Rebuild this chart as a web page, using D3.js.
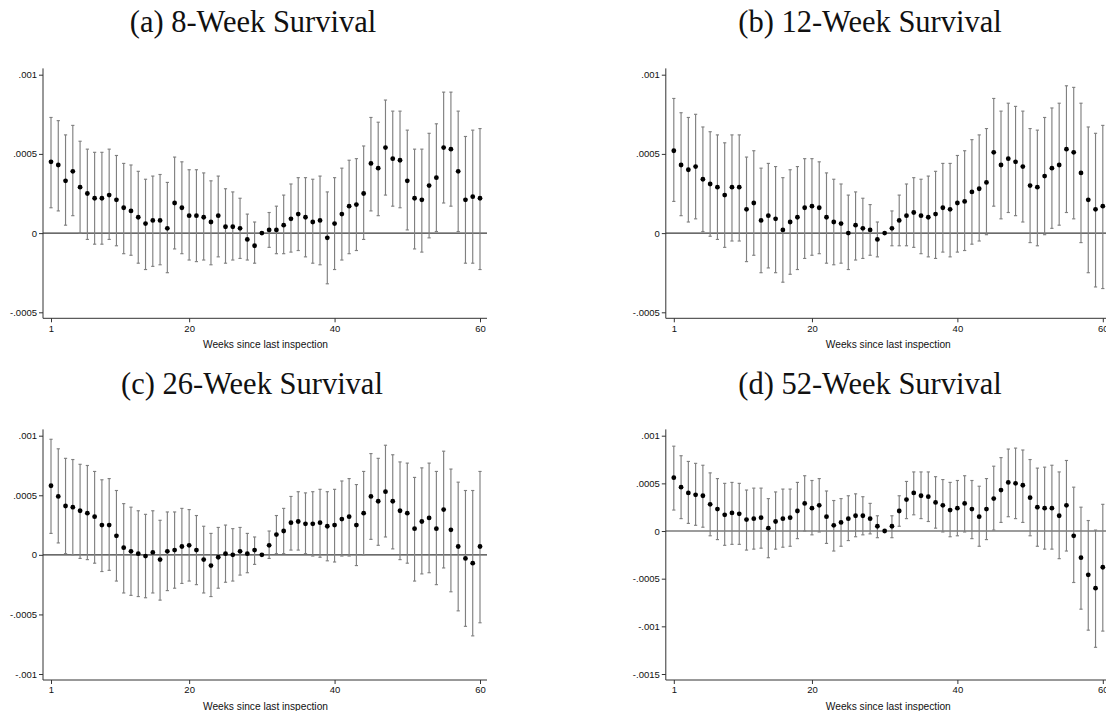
<!DOCTYPE html>
<html>
<head>
<meta charset="utf-8">
<script src="https://cdn.jsdelivr.net/npm/d3@7"></script>
<style>
  html, body { margin: 0; padding: 0; background: #fff; }
  svg { display: block; }
  .title { font-family: "Liberation Serif", "Times New Roman", serif; font-size: 30.5px; fill: #111; }
  .tick text, .xlab { font-family: "Liberation Sans", Arial, Helvetica, sans-serif; fill: #111; }
</style>
</head>
<body>
<svg id="chart" width="1106" height="711"></svg>
<script>
// Weeks since last inspection (week 30 is the omitted reference period)
const weeks = [1,2,3,4,5,6,7,8,9,10,11,12,13,14,15,16,17,18,19,20,
  21,22,23,24,25,26,27,28,29,30,31,32,33,34,35,36,37,38,39,40,
  41,42,43,44,45,46,47,48,49,50,51,52,53,54,55,56,57,58,59,60];
const xTicks = [1, 20, 40, 60];

// (a) 8-week survival
const est8 = [.00045,.00043,.00033,.00039,.00029,.00025,.00022,.00022,.00024,.00021,
  .00016,.00014,.00010,.00006,.00008,.00008,.00003,.00019,.00016,.00011,
  .00011,.00010,.00007,.00011,.00004,.00004,.00003,-.00004,-.00008,0,
  .00002,.00002,.00005,.00009,.00012,.00010,.00007,.00008,-.00003,.00006,
  .00012,.00017,.00018,.00025,.00044,.00041,.00054,.00047,.00046,.00033,
  .00022,.00021,.00030,.00035,.00054,.00053,.00039,.00021,.00023,.00022];
const hi8 = [.00073,.00071,.00062,.00068,.00058,.00053,.00051,.00051,.00053,.00049,
  .00044,.00043,.00039,.00034,.00036,.00037,.00032,.00048,.00045,.00040,
  .00040,.00038,.00033,.00036,.00028,.00026,.00022,.00012,.00007,null,
  .00013,.00017,.00024,.00031,.00035,.00035,.00034,.00036,.00026,.00035,
  .00041,.00046,.00047,.00055,.00073,.00070,.00084,.00077,.00077,.00065,
  .00053,.00053,.00063,.00069,.00089,.00089,.00077,.00061,.00065,.00066];
const lo8 = [.00016,.00014,.00005,.00011,.00000,-.00004,-.00007,-.00007,-.00004,-.00008,
  -.00013,-.00014,-.00019,-.00023,-.00021,-.00020,-.00025,-.00010,-.00013,-.00017,
  -.00018,-.00017,-.00020,-.00015,-.00019,-.00017,-.00016,-.00017,-.00019,null,
  -.00009,-.00013,-.00013,-.00012,-.00011,-.00015,-.00019,-.00020,-.00032,-.00023,
  -.00017,-.00013,-.00011,-.00004,.00014,.00011,.00024,.00017,.00016,.00002,
  -.00010,-.00012,-.00003,.00001,.00019,.00017,.00001,-.00019,-.00019,-.00023];

// (b) 12-week survival
const est12 = [.00052,.00043,.00040,.00042,.00034,.00031,.00029,.00024,.00029,.00029,
  .00015,.00019,.00008,.00011,.00009,.00002,.00007,.00010,.00016,.00017,
  .00016,.00010,.00007,.00006,.00000,.00005,.00003,.00002,-.00004,0,
  .00003,.00008,.00011,.00013,.00011,.00010,.00012,.00016,.00015,.00019,
  .00020,.00026,.00028,.00032,.00051,.00043,.00047,.00045,.00042,.00030,
  .00029,.00036,.00041,.00043,.00053,.00051,.00038,.00021,.00015,.00017];
const hi12 = [.00085,.00076,.00073,.00075,.00067,.00064,.00062,.00057,.00062,.00062,
  .00048,.00052,.00041,.00044,.00042,.00035,.00040,.00042,.00047,.00047,
  .00045,.00038,.00034,.00031,.00024,.00026,.00022,.00018,.00007,null,
  .00014,.00024,.00031,.00035,.00034,.00036,.00039,.00044,.00044,.00049,
  .00052,.00059,.00062,.00066,.00085,.00077,.00082,.00080,.00077,.00066,
  .00065,.00073,.00079,.00082,.00093,.00092,.00082,.00067,.00063,.00068];
const lo12 = [.00020,.00011,.00007,.00009,.00001,-.00002,-.00004,-.00009,-.00005,-.00005,
  -.00018,-.00014,-.00025,-.00022,-.00025,-.00031,-.00026,-.00023,-.00016,-.00014,
  -.00013,-.00019,-.00020,-.00019,-.00023,-.00017,-.00016,-.00014,-.00015,null,
  -.00008,-.00008,-.00008,-.00009,-.00013,-.00015,-.00016,-.00012,-.00015,-.00012,
  -.00011,-.00007,-.00005,-.00001,.00017,.00009,.00013,.00011,.00007,-.00006,
  -.00008,-.00001,.00003,.00005,.00013,.00009,-.00006,-.00025,-.00034,-.00035];

// (c) 26-week survival
const est26 = [.00058,.00049,.00041,.00040,.00037,.00035,.00032,.00025,.00025,.00016,
  .00006,.00003,.00001,-.00001,.00002,-.00004,.00003,.00004,.00007,.00008,
  .00004,-.00004,-.00009,-.00002,.00001,.00000,.00003,.00001,.00004,0,
  .00008,.00017,.00020,.00027,.00028,.00026,.00026,.00027,.00024,.00025,
  .00030,.00032,.00025,.00035,.00049,.00045,.00053,.00045,.00037,.00035,
  .00022,.00028,.00031,.00022,.00038,.00021,.00007,-.00003,-.00007,.00007];
const hi26 = [.00097,.00089,.00081,.00080,.00076,.00075,.00070,.00063,.00064,.00054,
  .00043,.00040,.00037,.00034,.00037,.00029,.00036,.00036,.00039,.00038,
  .00033,.00024,.00018,.00023,.00025,.00022,.00023,.00018,.00015,null,
  .00020,.00033,.00039,.00049,.00053,.00052,.00053,.00055,.00053,.00055,
  .00062,.00064,.00059,.00070,.00085,.00081,.00092,.00084,.00078,.00077,
  .00065,.00073,.00077,.00070,.00087,.00072,.00061,.00054,.00054,.00070];
const lo26 = [.00018,.00010,.00001,.00000,-.00003,-.00004,-.00007,-.00014,-.00013,-.00022,
  -.00032,-.00034,-.00035,-.00036,-.00032,-.00038,-.00030,-.00028,-.00024,-.00022,
  -.00025,-.00032,-.00035,-.00028,-.00023,-.00022,-.00017,-.00015,-.00008,null,
  -.00003,.00001,.00001,.00004,.00004,.00001,-.00001,-.00002,-.00005,-.00006,
  -.00001,-.00001,-.00009,.00000,.00013,.00008,.00015,.00005,-.00004,-.00007,
  -.00022,-.00016,-.00015,-.00025,-.00011,-.00031,-.00047,-.00060,-.00068,-.00057];

// (d) 52-week survival
const est52 = [.00056,.00046,.00040,.00038,.00037,.00028,.00023,.00017,.00019,.00018,
  .00012,.00013,.00014,.00003,.00010,.00013,.00014,.00021,.00029,.00024,
  .00027,.00015,.00006,.00009,.00013,.00016,.00016,.00013,.00005,0,
  .00005,.00021,.00033,.00040,.00037,.00036,.00030,.00027,.00022,.00024,
  .00029,.00023,.00015,.00023,.00034,.00043,.00051,.00050,.00048,.00035,
  .00025,.00024,.00024,.00016,.00027,-.00005,-.00028,-.00046,-.00060,-.00038];
const hi52 = [.00089,.00079,.00073,.00071,.00069,.00061,.00055,.00050,.00051,.00050,
  .00043,.00045,.00045,.00034,.00041,.00044,.00044,.00051,.00058,.00053,
  .00055,.00042,.00032,.00034,.00037,.00039,.00036,.00029,.00016,null,
  .00016,.00037,.00052,.00062,.00062,.00062,.00057,.00054,.00051,.00053,
  .00058,.00053,.00047,.00055,.00068,.00077,.00086,.00087,.00085,.00075,
  .00066,.00067,.00069,.00062,.00074,.00046,.00025,.00011,.00001,.00028];
const lo52 = [.00022,.00013,.00008,.00006,.00004,-.00005,-.00009,-.00015,-.00014,-.00014,
  -.00020,-.00019,-.00018,-.00028,-.00019,-.00017,-.00016,-.00008,.00000,-.00004,
  -.00001,-.00013,-.00021,-.00016,-.00010,-.00006,-.00004,-.00003,-.00007,null,
  -.00007,.00005,.00013,.00017,.00013,.00010,.00003,-.00001,-.00006,-.00005,
  -.00001,-.00008,-.00016,-.00009,.00001,.00009,.00015,.00013,.00009,-.00005,
  -.00016,-.00019,-.00019,-.00029,-.00021,-.00054,-.00082,-.00104,-.00122,-.00105];

// y-axis ticks per panel
const yTicksA = [-0.0005, 0, 0.0005, 0.001];
const yTicksB = [-0.0005, 0, 0.0005, 0.001];
const yTicksC = [-0.001, -0.0005, 0, 0.0005, 0.001];
const yTicksD = [-0.0015, -0.001, -0.0005, 0, 0.0005, 0.001];

const titles = ["(a) 8-Week Survival", "(b) 12-Week Survival", "(c) 26-Week Survival", "(d) 52-Week Survival"];
const xTitle = "Weeks since last inspection";

// Stata-style tick labels: ".0005", "-.001", "0"
function fmtTick(v) {
  if (Math.abs(v) < 1e-12) return "0";
  let s = String(+v.toPrecision(6));
  return s.replace(/^(-?)0\./, "$1.");
}

const svg = d3.select("#chart");

const panels = [
  { est: est8,  hi: hi8,  lo: lo8,  yt: yTicksA, title: titles[0], x0: 43,    yTopTick: 74.7,  yBotTick: 312.3, titleX: 253, titleY: 32 },
  { est: est12, hi: hi12, lo: lo12, yt: yTicksB, title: titles[1], x0: 665.8, yTopTick: 74.7,  yBotTick: 312.3, titleX: 870, titleY: 32 },
  { est: est26, hi: hi26, lo: lo26, yt: yTicksC, title: titles[2], x0: 43,    yTopTick: 435.7, yBotTick: 674,   titleX: 252, titleY: 394 },
  { est: est52, hi: hi52, lo: lo52, yt: yTicksD, title: titles[3], x0: 665.8, yTopTick: 435.7, yBotTick: 674,   titleX: 870, titleY: 394 }
];

panels.forEach(p => {
  const g = svg.append("g");
  const axisLeft = p.x0, axisRight = p.x0 + 444;
  const plotTop = p.yTopTick - 6.3, plotBottom = p.yBotTick + 6;

  const x = d3.scaleLinear().domain([1, 60]).range([p.x0 + 8, p.x0 + 437]);
  const y = d3.scaleLinear().domain([d3.min(p.yt), d3.max(p.yt)]).range([p.yBotTick, p.yTopTick]);

  // subfigure caption
  g.append("text").attr("class", "title")
    .attr("x", p.titleX).attr("y", p.titleY)
    .attr("text-anchor", "middle").text(p.title);

  // zero reference line
  g.append("line")
    .attr("x1", axisLeft).attr("x2", axisRight)
    .attr("y1", y(0)).attr("y2", y(0))
    .attr("stroke", "#3a3a3a").attr("stroke-width", 1.1);

  // confidence intervals with caps
  const rows = weeks.map((w, i) => ({ w, e: p.est[i], h: p.hi[i], l: p.lo[i] }));
  const ci = rows.filter(d => d.h !== null && d.l !== null);
  const ciG = g.append("g").attr("stroke", "#808080").attr("stroke-width", 1.15).attr("fill", "none");
  ciG.selectAll("line.bar").data(ci).join("line").attr("class", "bar")
    .attr("x1", d => x(d.w)).attr("x2", d => x(d.w))
    .attr("y1", d => y(d.h)).attr("y2", d => y(d.l));
  ciG.selectAll("line.capHi").data(ci).join("line").attr("class", "capHi")
    .attr("x1", d => x(d.w) - 1.6).attr("x2", d => x(d.w) + 1.6)
    .attr("y1", d => y(d.h)).attr("y2", d => y(d.h));
  ciG.selectAll("line.capLo").data(ci).join("line").attr("class", "capLo")
    .attr("x1", d => x(d.w) - 1.6).attr("x2", d => x(d.w) + 1.6)
    .attr("y1", d => y(d.l)).attr("y2", d => y(d.l));

  // point estimates
  g.append("g").selectAll("circle").data(rows).join("circle")
    .attr("cx", d => x(d.w)).attr("cy", d => y(d.e))
    .attr("r", 2.4).attr("fill", "#000");

  // axis lines
  g.append("line").attr("x1", axisLeft).attr("x2", axisLeft)
    .attr("y1", plotTop).attr("y2", plotBottom)
    .attr("stroke", "#333").attr("stroke-width", 1);
  g.append("line").attr("x1", axisLeft).attr("x2", axisRight)
    .attr("y1", plotBottom).attr("y2", plotBottom)
    .attr("stroke", "#333").attr("stroke-width", 1);

  // y axis ticks
  const yAx = g.append("g").attr("transform", `translate(${axisLeft},0)`)
    .call(d3.axisLeft(y).tickValues(p.yt).tickFormat(fmtTick).tickSize(4).tickPadding(2));
  yAx.select(".domain").remove();
  yAx.selectAll(".tick line").attr("stroke", "#333");
  yAx.selectAll(".tick text").attr("font-size", "9.5px").attr("fill", "#111");

  // x axis ticks
  const xAx = g.append("g").attr("transform", `translate(0,${plotBottom})`)
    .call(d3.axisBottom(x).tickValues(xTicks).tickFormat(d3.format("d")).tickSize(4).tickPadding(2.5));
  xAx.select(".domain").remove();
  xAx.selectAll(".tick line").attr("stroke", "#333");
  xAx.selectAll(".tick text").attr("font-size", "9.5px").attr("fill", "#111");

  // x axis title
  g.append("text").attr("class", "xlab")
    .attr("x", (axisLeft + axisRight) / 2 + 0.5).attr("y", plotBottom + 29.5)
    .attr("text-anchor", "middle").attr("font-size", "10.2px")
    .text(xTitle);
});
</script>
</body>
</html>
